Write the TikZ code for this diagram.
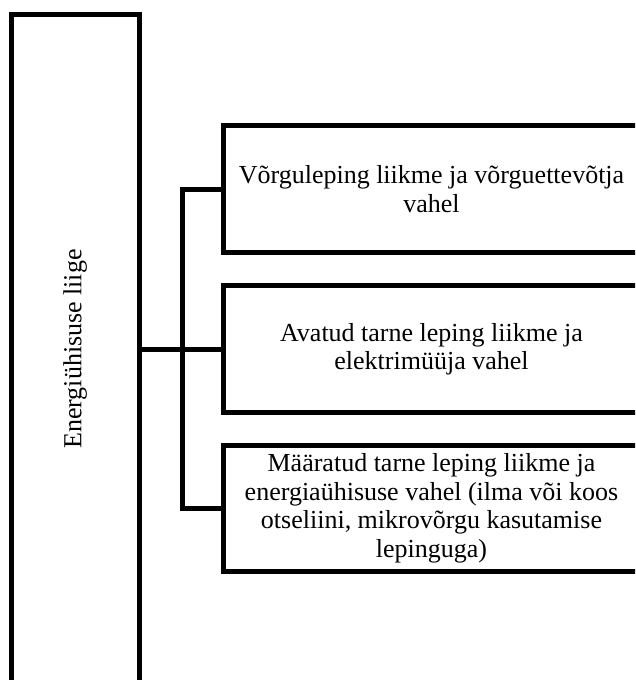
\documentclass[tikz,border=0pt]{standalone}
\usepackage{fontspec}
\setmainfont{Liberation Serif}
\begin{document}
\begin{tikzpicture}[x=1pt,y=-1pt,
  every node/.style={font=\fontsize{26}{28.5}\selectfont},
  member/.style={draw, line width=5pt, minimum width=127.5pt, minimum height=670pt, inner sep=0pt},
  contract/.style={draw, line width=5pt, minimum width=417pt, inner sep=0pt, align=center},
  link/.style={line width=5pt}]
  \useasboundingbox (0,0) rectangle (635,680);
  \clip (0,0) rectangle (635,680);

  % member column on the left
  \node[member] (liige) at (75.25,349) {};
  \node[rotate=90] (liigetxt) at (liige.center) {Energiühisuse liige};

  % three contract boxes on the right
  \node[contract, minimum height=127pt] (b1) at (431.5,189)
    {Võrguleping liikme ja võrguettevõtja\\vahel};
  \node[contract, minimum height=127pt] (b2) at (431.5,349)
    {Avatud tarne leping liikme ja\\elektrimüüja vahel};
  \node[contract, minimum height=126pt] (b3) at (431.5,508.5)
    {Määratud tarne leping liikme ja\\energiaühisuse vahel (ilma või koos\\otseliini, mikrovõrgu kasutamise\\lepinguga)};

  % connectors
  \coordinate (bx) at (182.5,349);
  \draw[link] (liige.east |- b2.west) -- (b2.west);
  \draw[link] (b1.west) -- (b1.west -| bx) -- (b3.west -| bx) -- (b3.west);
\end{tikzpicture}
\end{document}
